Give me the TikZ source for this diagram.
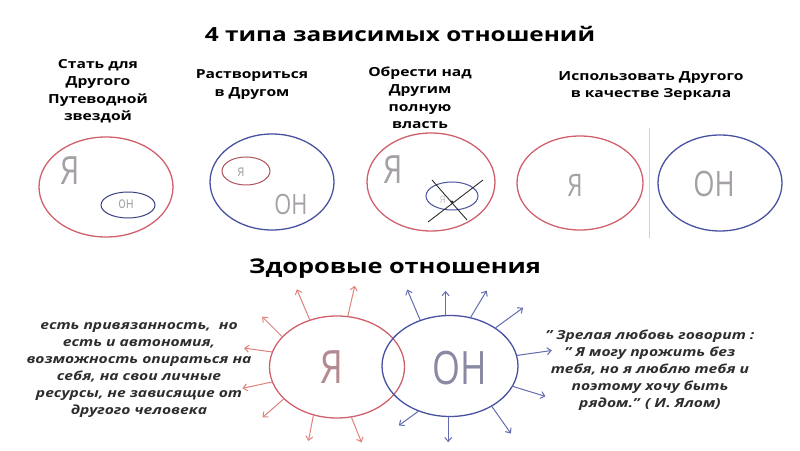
\documentclass[tikz,border=0pt]{standalone}
\usepackage{fontspec}
\usetikzlibrary{shapes.geometric,arrows.meta,calc}
\newfontfamily\headfont[FakeStretch=1.25]{Open Sans}
\newfontfamily\handfont[FakeStretch=0.78]{Open Sans}
\definecolor{redline}{RGB}{207,96,108}
\definecolor{blueline}{RGB}{72,82,160}
\definecolor{redray}{RGB}{222,130,122}
\definecolor{blueray}{RGB}{98,108,175}
\definecolor{lettergray}{RGB}{165,160,165}
\definecolor{darktxt}{RGB}{45,45,45}
\tikzset{
  ring/.style={ellipse,draw,line width=1.3pt,inner sep=0pt},
  redring/.style={ring,draw=redline},
  bluering/.style={ring,draw=blueline},
  headtxt/.style={font=\headfont\bfseries\fontsize{19.5}{23}\selectfont},
  captxt/.style={align=center,font=\headfont\bfseries\fontsize{12.5}{17.5}\selectfont},
  quotetxt/.style={align=center,text=darktxt,font=\headfont\bfseries\itshape\fontsize{12.5}{17}\selectfont},
  letter/.style={text=lettergray,inner sep=0pt},
  redarrow/.style={redray,line width=1pt,-{Straight Barb[length=4pt,width=7pt]}},
  bluearrow/.style={blueray,line width=1pt,-{Straight Barb[length=4pt,width=7pt]}}
}
\begin{document}
\begin{tikzpicture}[x=1pt,y=1pt]
\useasboundingbox (0,0) rectangle (800,450);
% headings
\node[headtxt] (title) at (400,416) {4 типа зависимых отношений};
\node[captxt] (cap1) at (98,359) {Стать для\\Другого\\Путеводной\\звездой};
\node[captxt] (cap2) at (252,365.5) {Раствориться\\в Другом};
\node[captxt] (cap3) at (420,352) {Обрести над\\Другим\\полную\\власть};
\node[captxt] (cap4) at (651,364) {Использовать Другого\\в качестве Зеркала};
% type 1
\node[redring,minimum width=134,minimum height=100] (star) at (106,263) {};
\node[letter,font=\handfont\fontsize{39}{39}\selectfont] (starme) at (70,279) {Я};
\node[ring,draw=blueline!80!black,line width=1pt,minimum width=54,minimum height=26] (starhim) at (128,245) {};
\node[letter,font=\handfont\fontsize{16}{16}\selectfont] (starhimtxt) at (126,246) {он};
% type 2
\node[bluering,minimum width=124,minimum height=96] (melt) at (272,268) {};
\node[ring,draw=redline!85!black,line width=1pt,minimum width=48,minimum height=28] (meltme) at (246,279) {};
\node[letter,font=\handfont\fontsize{16}{16}\selectfont] (meltmetxt) at (241,278) {я};
\node[letter,font=\handfont\fontsize{28}{28}\selectfont] (melthim) at (291,246) {ОН};
% type 3
\node[redring,minimum width=128,minimum height=98] (power) at (431,268) {};
\node[letter,font=\handfont\fontsize{39}{39}\selectfont] (powerme) at (393,280) {Я};
\node[ring,draw=blueline,line width=1pt,minimum width=52,minimum height=28] (powerhim) at (452,254) {};
\node[letter,text=lettergray!60,font=\handfont\fontsize{14}{14}\selectfont] (powerhimtxt) at (443,250) {я};
\coordinate (crossa) at (428,228);
\coordinate (crossb) at (483,270);
\coordinate (crossc) at (432,270);
\coordinate (crossd) at (467,230);
\draw[darktxt,line width=0.9pt] (crossa) -- (crossb);
\draw[darktxt,line width=0.9pt] (crossc) -- (crossd);
\fill[darktxt] (452,248) circle (1.6pt);
% type 4
\node[redring,minimum width=126,minimum height=94] (mirrme) at (580,267) {};
\node[letter,font=\handfont\fontsize{31}{31}\selectfont] (mirrmetxt) at (575,265) {Я};
\coordinate (septop) at (649,322);
\coordinate (sepbot) at (649,212);
\draw[gray!35,line width=0.8pt] (septop) -- (sepbot);
\node[bluering,minimum width=124,minimum height=96] (mirrhim) at (720,267) {};
\node[letter,font=\handfont\fontsize{35}{35}\selectfont] (mirrhimtxt) at (714,266) {ОН};
% healthy
\node[headtxt,font=\headfont\bfseries\fontsize{20.3}{24}\selectfont] (healthy) at (395,181) {Здоровые отношения};
\node[redring,minimum width=135,minimum height=102] (ya) at (337,83) {};
\node[bluering,minimum width=136,minimum height=101] (on) at (450,84) {};
\node[letter,text=redline!35!lettergray,font=\handfont\fontsize{46}{46}\selectfont] (yatxt) at (332,83) {Я};
\node[letter,text=blueline!30!lettergray,font=\handfont\fontsize{46}{46}\selectfont] (ontxt) at (460,82) {ОН};
\foreach \a/\d/\l in {120/113/33,78/77/31,151/135/28,167/172/28,193/192/30,211/221/28,244/259/26,286/292/27}{
  \coordinate (ry-\a) at ($(ya.\a)+(\d:\l)$);
  \draw[redarrow] (ya.\a) -- (ry-\a);
}
\foreach \a/\d/\l in {123/113/33,95/90/24,67/59/31,40/36/34,9/8/35,342/343/34,316/305/33,268/270/25,235/216/24}{
  \coordinate (by-\a) at ($(on.\a)+(\d:\l)$);
  \draw[bluearrow] (on.\a) -- (by-\a);
}
\node[quotetxt] (leftnote) at (139,80) {есть привязанность,\ \ но\\есть и автономия,\\возможность опираться на\\себя, на свои личные\\ресурсы, не зависящие от\\другого человека};
\node[quotetxt] (rightnote) at (650,80) {” Зрелая любовь говорит :\\” Я могу прожить без\\тебя, но я люблю тебя и\\поэтому хочу быть\\рядом.” ( И. Ялом)};
\end{tikzpicture}
\end{document}
